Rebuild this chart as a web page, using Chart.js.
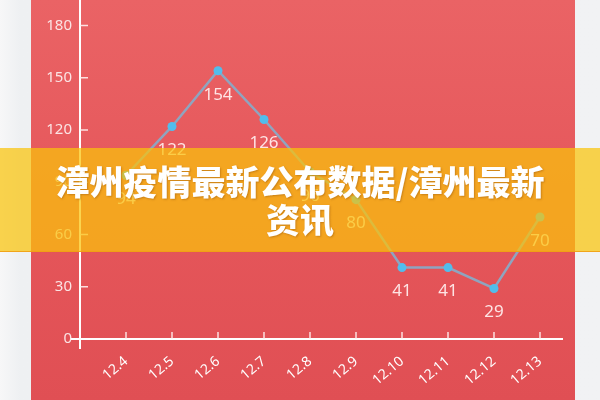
<!DOCTYPE html>
<html>
<head>
<meta charset="utf-8">
<script src="https://cdn.jsdelivr.net/npm/chart.js@4"></script>
<style>
html,body{margin:0;padding:0;}
body{width:600px;height:400px;overflow:hidden;position:relative;background:linear-gradient(90deg,#f7f7f8,#eef0f2 20px,#f1f2f4);}
#card{position:absolute;left:31px;top:0;width:544px;height:400px;background:linear-gradient(180deg,#ea6365 0%,#e5565a 55%,#e04f54 100%);}
#myChart{position:absolute;left:0;top:0;}
#banner{position:absolute;left:0;top:148px;width:600px;height:103px;background:rgba(250,196,10,0.72);border-bottom:1px solid rgba(240,160,20,0.9);display:flex;align-items:center;justify-content:center;}
#banner div{width:500px;text-align:center;color:#fff;font-family:"Noto Sans CJK SC",sans-serif;font-weight:900;font-size:34px;line-height:38px;text-shadow:1px 1px 2px rgba(120,60,0,0.35);}
</style>
</head>
<body>
<div id="card"></div>
<canvas id="myChart" width="600" height="400"></canvas>
<div id="banner"><div>漳州疫情最新公布数据/漳州最新资讯</div></div>
<script>
// chart data
const categories = ['12.4','12.5','12.6','12.7','12.8','12.9','12.10','12.11','12.12','12.13'];
const cases = [94,122,154,126,96,80,41,41,29,70];
const yTicks = [0,30,60,90,120,150,180];
const yMax = 192;

// axes drawn by hand: the y line sits one category step left of the first point
const axisPlugin = {
    id: 'axisCross',
    beforeDatasetsDraw(chart){
        const ctx = chart.ctx;
        const xs = chart.scales.x, ys = chart.scales.y;
        const step = xs.getPixelForValue(1) - xs.getPixelForValue(0);
        const ax = xs.getPixelForValue(0) - step;
        const zy = ys.getPixelForValue(0);
        ctx.save();
        ctx.strokeStyle = '#ffffff';
        ctx.lineWidth = 2;
        ctx.beginPath();
        ctx.moveTo(ax, 0);
        ctx.lineTo(ax, zy + 10);
        ctx.moveTo(ax - 9, zy);
        ctx.lineTo(chart.chartArea.right, zy);
        ctx.stroke();
        ctx.lineWidth = 1.5;
        ctx.strokeStyle = 'rgba(255,240,240,0.9)';
        ctx.beginPath();
        yTicks.forEach(v => {
            if (v === 0) return;
            const y = ys.getPixelForValue(v);
            ctx.moveTo(ax, y);
            ctx.lineTo(ax + 8, y);
        });
        categories.forEach((c, i) => {
            const x = xs.getPixelForValue(i);
            ctx.moveTo(x, zy);
            ctx.lineTo(x, zy - 7);
        });
        ctx.stroke();
        ctx.restore();
    }
};

// value labels under each point
const labelPlugin = {
    id: 'valueLabels',
    afterDatasetsDraw(chart){
        const ctx = chart.ctx;
        const meta = chart.getDatasetMeta(0);
        ctx.save();
        ctx.font = '17px "Noto Sans", sans-serif';
        ctx.fillStyle = 'rgba(255,236,236,0.95)';
        ctx.textAlign = 'center';
        ctx.textBaseline = 'middle';
        meta.data.forEach((pt, i) => {
            ctx.fillText(String(cases[i]), pt.x, pt.y + 24);
        });
        ctx.restore();
    }
};

const canvas = document.getElementById('myChart');
const chart = new Chart(canvas.getContext('2d'), {
    type: 'line',
    data: {
        labels: categories,
        datasets: [{
            data: cases,
            borderColor: '#8fa4bf',
            borderWidth: 2.5,
            tension: 0,
            pointRadius: 4.5,
            pointBackgroundColor: '#52bdec',
            pointBorderWidth: 0,
            fill: false
        }]
    },
    options: {
        responsive: false,
        animation: false,
        layout: { padding: { left: 0, right: 37, top: 0, bottom: 0 } },
        plugins: { legend: { display: false }, tooltip: { enabled: false } },
        scales: {
            x: {
                type: 'category',
                offset: true,
                grid: { display: false },
                border: { display: false },
                ticks: {
                    color: '#ffffff',
                    font: { family: 'Noto Sans', size: 14 },
                    minRotation: 40,
                    maxRotation: 40,
                    padding: 6
                },
                afterFit(s){
                    s.height = 61;
                    s.paddingTop = 0;
                    s.paddingBottom = 0;
                    s.paddingLeft = 0;
                    s.paddingRight = 0;
                }
            },
            y: {
                min: 0,
                max: yMax,
                grid: { display: false, drawTicks: false },
                border: { display: false },
                afterBuildTicks(s){
                    s.ticks = yTicks.map(v => ({ value: v }));
                    s.min = 0;
                    s.max = yMax;
                },
                ticks: {
                    color: '#fbe4e4',
                    font: { family: 'Noto Sans', size: 15 },
                    padding: 31
                },
                afterFit(s){
                    s.width = 103;
                    s.paddingTop = 0;
                    s.paddingBottom = 0;
                }
            }
        }
    },
    plugins: [axisPlugin, labelPlugin]
});
</script>
</body>
</html>
